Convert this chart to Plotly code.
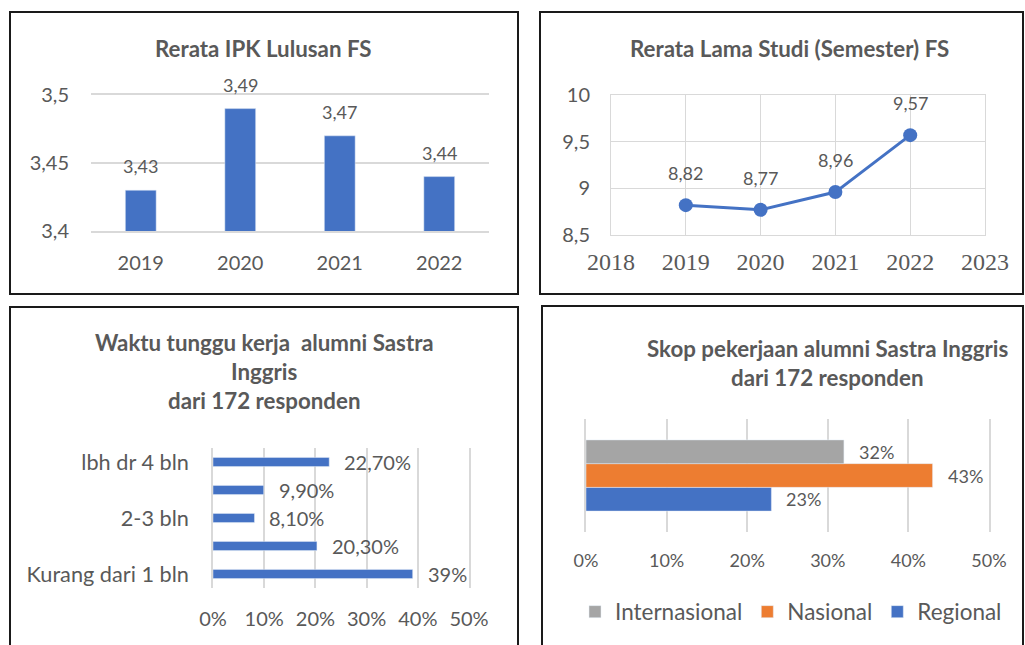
import plotly.graph_objects as go

W, H = 1025, 645
FONT = "Lato"
SERIF = "Liberation Serif"
GRAY = "#595959"
GRID = "#d9d9d9"
BLUE = "#4472C4"
ORANGE = "#ED7D31"
LGRAY = "#A5A5A5"

# ---- data ----
ipk_years = ["2019", "2020", "2021", "2022"]
ipk_values = [3.43, 3.49, 3.47, 3.44]

studi_years = [2019, 2020, 2021, 2022]
studi_values = [8.82, 8.77, 8.96, 9.57]

tunggu_cats = ["Kurang dari 1 bln", "1-2 bln", "2-3 bln", "3-4 bln", "lbh dr 4 bln"]
tunggu_values = [39, 20.3, 8.1, 9.9, 22.7]
tunggu_labels = ["39%", "20,30%", "8,10%", "9,90%", "22,70%"]
tunggu_shown = ["Kurang dari 1 bln", "2-3 bln", "lbh dr 4 bln"]

skop_series = ["Regional", "Nasional", "Internasional"]
skop_values = [23, 43, 32]
skop_labels = ["23%", "43%", "32%"]
skop_colors = [BLUE, ORANGE, LGRAY]
skop_cat = ["Skop"]

titles = {
    "ipk": ["Rerata IPK Lulusan FS"],
    "studi": ["Rerata Lama Studi (Semester) FS"],
    "tunggu": ["Waktu tunggu kerja&nbsp; alumni Sastra", "Inggris", "dari 172 responden"],
    "skop": ["Skop pekerjaan alumni Sastra Inggris", "dari 172 responden"],
}


def fx(x):
    return x / W


def fy(y):
    return 1 - y / H


BARGAP = 0.37
fig = go.Figure()

# top-left bars
fig.add_trace(go.Bar(x=ipk_years, y=ipk_values, marker_color=BLUE, width=0.31,
                     xaxis="x", yaxis="y", showlegend=False, hoverinfo="skip"))
# top-right line
fig.add_trace(go.Scatter(x=studi_years, y=studi_values, mode="lines+markers",
                         line=dict(color=BLUE, width=3), marker=dict(size=14, color=BLUE),
                         xaxis="x2", yaxis="y2", showlegend=False, hoverinfo="skip"))
# bottom-left bars
fig.add_trace(go.Bar(y=tunggu_cats, x=tunggu_values, orientation="h", marker_color=BLUE,
                     width=0.33, xaxis="x3", yaxis="y3", showlegend=False, hoverinfo="skip"))
# bottom-right grouped bars
for name, v, c in zip(skop_series, skop_values, skop_colors):
    fig.add_trace(go.Bar(y=skop_cat, x=[v], orientation="h", name=name, marker_color=c,
                         xaxis="x4", yaxis="y4", showlegend=True, hoverinfo="skip"))

ann = []
# titles
def title_lines(lines, cx, y0, step, size=22.3):
    for i, t in enumerate(lines):
        ann.append(dict(text="<b>%s</b>" % t, x=fx(cx), y=fy(y0 + i * step), xref="paper",
                        yref="paper", xanchor="center", yanchor="middle", showarrow=False,
                        font=dict(family=FONT, size=size, color=GRAY)))

title_lines(titles["ipk"], 263, 48, 0)
title_lines(titles["studi"], 789, 48, 0)
title_lines(titles["tunggu"], 264, 342, 29.5)
title_lines(titles["skop"], 827, 348, 29.5)

# data labels
for i, v in enumerate(ipk_values):
    ann.append(dict(text=("%.2f" % v).replace(".", ","), x=i, y=v, xref="x", yref="y",
                    yanchor="middle", yshift=24, showarrow=False,
                    font=dict(family=FONT, size=18, color=GRAY)))
for c, v in zip(studi_years, studi_values):
    ann.append(dict(text=("%.2f" % v).replace(".", ","), x=c, y=v, xref="x2", yref="y2",
                    yanchor="middle", yshift=32, showarrow=False,
                    font=dict(family=FONT, size=18, color=GRAY)))
for i, (v, t) in enumerate(zip(tunggu_values, tunggu_labels)):
    ann.append(dict(text=t, x=v, y=i, xref="x3", yref="y3", xanchor="left", xshift=13,
                    yanchor="middle", showarrow=False,
                    font=dict(family=FONT, size=20, color=GRAY)))
n = len(skop_series)
bw = (1 - BARGAP) / n
for i, (v, t) in enumerate(zip(skop_values, skop_labels)):
    ann.append(dict(text=t, x=v, y=(i - (n - 1) / 2) * bw, xref="x4", yref="y4",
                    xanchor="left", xshift=13, yanchor="middle", showarrow=False,
                    font=dict(family=FONT, size=18, color=GRAY)))

# panel borders
shapes = []
for (x0, y0, x1, y1) in [(10, 12, 518, 294), (540, 12, 1023, 294),
                         (10, 307, 518, 660), (542, 306, 1023, 660)]:
    shapes.append(dict(type="rect", xref="paper", yref="paper", x0=fx(x0), x1=fx(x1),
                       y0=fy(y1), y1=fy(y0), line=dict(color="#1a1a1a", width=2),
                       fillcolor="rgba(0,0,0,0)"))

tick = dict(family=FONT, size=20, color=GRAY)
fig.update_layout(
    width=W, height=H, margin=dict(l=0, r=0, t=0, b=0, autoexpand=False),
    paper_bgcolor="white", plot_bgcolor="white",
    separators=", ", barmode="group", bargap=BARGAP, bargroupgap=0,
    font=dict(family=FONT, color=GRAY),
    xaxis=dict(domain=[fx(91), fx(489)], anchor="y", type="category", range=[-0.5, 3.5],
               showgrid=False, showline=True, mirror=True, linecolor=GRID, linewidth=1.5,
               layer="below traces", ticks="", tickfont=tick, ticklabelstandoff=13,
               automargin=False),
    yaxis=dict(domain=[fy(231), fy(95)], anchor="x", range=[3.4, 3.5], tick0=3.4,
               dtick=0.05, showgrid=True, gridcolor=GRID, gridwidth=1.5, zeroline=False,
               showline=False, ticks="", tickfont=tick, ticklabelstandoff=21, automargin=False),
    xaxis2=dict(domain=[fx(611), fx(985)], anchor="y2", range=[2018, 2023], dtick=1,
                showgrid=True, gridcolor=GRID, showline=True, mirror=True, linecolor=GRID,
                zeroline=False, ticks="", tickfont=dict(family=SERIF, size=24, color=GRAY),
                ticklabelstandoff=5, automargin=False),
    yaxis2=dict(domain=[fy(235), fy(95)], anchor="x2", range=[8.5, 10], dtick=0.5,
                showgrid=True, gridcolor=GRID, showline=True, mirror=True, linecolor=GRID,
                zeroline=False, ticks="", tickfont=tick, ticklabelstandoff=16, automargin=False),
    xaxis3=dict(domain=[fx(213), fx(469)], anchor="y3", range=[0, 50], tick0=0,
                dtick=10, ticksuffix="%", showgrid=True, gridcolor=GRID, gridwidth=1.5,
                zeroline=False, showline=False, ticks="", tickfont=tick, ticklabelstandoff=17,
                automargin=False),
    yaxis3=dict(domain=[fy(588), fy(448)], anchor="x3", type="category",
                categoryorder="array", categoryarray=tunggu_cats, tickvals=tunggu_shown,
                range=[-0.5, 4.5], showgrid=False, showline=True, mirror=True, linecolor=GRID,
                linewidth=1.5, layer="below traces", ticks="",
                tickfont=dict(family=FONT, size=21.7, color=GRAY), ticklabelstandoff=18,
                automargin=False),
    xaxis4=dict(domain=[fx(586), fx(989)], anchor="y4", range=[0, 50], tick0=0,
                dtick=10, ticksuffix="%", showgrid=True, gridcolor=GRID, gridwidth=1.5,
                zeroline=False, showline=False, ticks="",
                tickfont=dict(family=FONT, size=18, color=GRAY), ticklabelstandoff=16,
                automargin=False),
    yaxis4=dict(domain=[fy(532), fy(419)], anchor="x4", type="category", range=[-0.5, 0.5],
                showticklabels=False, showgrid=False, showline=True, mirror=True,
                linecolor=GRID, linewidth=1.5, layer="below traces", ticks="",
                automargin=False),
    legend=dict(orientation="h", x=fx(791), xanchor="center", y=fy(612), yanchor="middle",
                traceorder="reversed", font=dict(family=FONT, size=22.5, color=GRAY),
                itemwidth=30, bgcolor="rgba(0,0,0,0)"),
    annotations=ann, shapes=shapes,
)

fig.write_html("out.html", config={"displayModeBar": False},
               post_script="document.body.style.margin='0';document.body.style.overflow='hidden';")
